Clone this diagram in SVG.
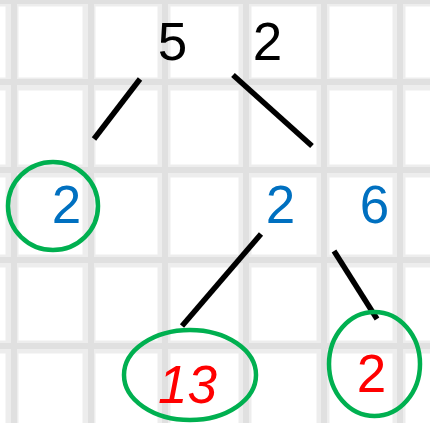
<svg xmlns="http://www.w3.org/2000/svg" width="430" height="423" viewBox="0 0 430 423">
<style>
.bg{fill:#ffffff}
.gw{stroke:#000;stroke-opacity:0.07;stroke-width:13;fill:none}
.gc{stroke:#000;stroke-opacity:0.05;stroke-width:6;fill:none}
.t{font-family:"Liberation Sans",Arial,sans-serif;font-size:53px;text-anchor:middle}
.k{fill:#000}
.b{fill:#0070c0}
.r{fill:#ff0000}
.ring{fill:none;stroke:#00b050;stroke-width:4.5}
.ln{stroke:#000;stroke-width:5.5;stroke-linecap:butt;fill:none}
</style>
<rect class="bg" x="0" y="0" width="430" height="423"/>
<g id="grid">
<path class="gw" d="M12 0V423M89 0V423M164 0V423M245 0V423M323 0V423M399 0V423M0 0H430M0 84H430M0 171H430M0 261H430M0 347H430"/>
<path class="gc" d="M14 0V423M91 0V423M165 0V423M246 0V423M324 0V423M400 0V423M0 1H430M0 82H430M0 170H430M0 260H430M0 346H430"/>
</g>
<g id="connectors">
<line class="ln" x1="140" y1="79" x2="94" y2="139"/>
<line class="ln" x1="233" y1="75" x2="312" y2="146"/>
<line class="ln" x1="261" y1="234" x2="182" y2="326"/>
<line class="ln" x1="334" y1="251" x2="377" y2="319"/>
</g>
<g id="n5"><text class="t k" x="172.5" y="60">5</text></g>
<g id="n2top"><text class="t k" x="267.5" y="60">2</text></g>
<g id="n2left"><ellipse class="ring" cx="53" cy="206" rx="45" ry="44"/><text class="t b" x="66.5" y="223">2</text></g>
<g id="n2mid"><text class="t b" x="280.5" y="223">2</text></g>
<g id="n6"><text class="t b" x="374.5" y="223">6</text></g>
<g id="n13"><ellipse class="ring" cx="190" cy="375" rx="66" ry="45"/><text class="t r" x="187.5" y="403" font-style="italic" font-size="56">13</text></g>
<g id="n2right"><ellipse class="ring" cx="374.5" cy="364" rx="45.5" ry="52"/><text class="t r" x="371.5" y="392">2</text></g>
</svg>
